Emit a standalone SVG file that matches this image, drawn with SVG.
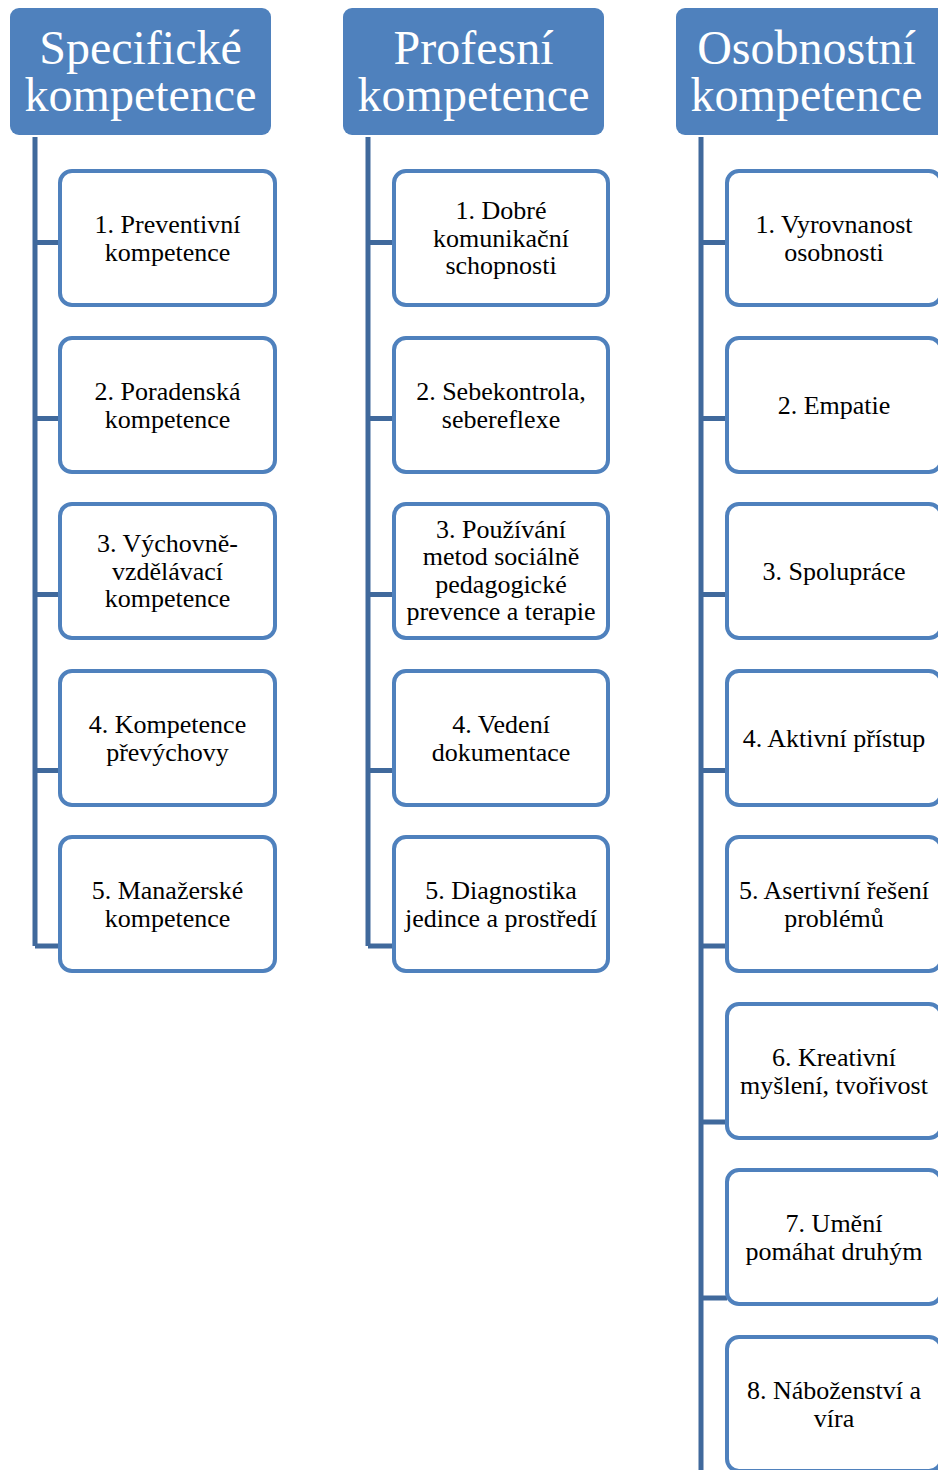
<svg xmlns="http://www.w3.org/2000/svg" width="938" height="1470" viewBox="0 0 938 1470">
<style>
.hdr{fill:#4F81BD}
.hdrt{font-family:"Liberation Serif","Times New Roman",serif;font-size:48px;fill:#FFFFFF;text-anchor:middle}
.box{fill:#FFFFFF;stroke:#4F81BD;stroke-width:4}
.bt{font-family:"Liberation Serif","Times New Roman",serif;font-size:26px;fill:#000000;text-anchor:middle}
.ln{stroke:#40699C;stroke-width:5;fill:none;stroke-linejoin:round}
</style>
<rect width="938" height="1470" fill="#FFFFFF"/>
<g id="connectors">
<path class="ln" d="M35,137 V946 M35,242.5 H60 M35,418.5 H60 M35,594.5 H60 M35,770.5 H60 M35,946 H60"/>
<path class="ln" d="M368,137 V946 M368,242.5 H394 M368,418.5 H394 M368,594.5 H394 M368,770.5 H394 M368,946 H394"/>
<path class="ln" d="M701,137 V1472 M701,242.5 H727 M701,418.5 H727 M701,594.5 H727 M701,770.5 H727 M701,946 H727 M701,1122 H727 M701,1298 H727"/>
</g>
<g id="h1"><rect class="hdr" x="10" y="8" width="261" height="127" rx="9"/><text class="hdrt" x="140.5"><tspan x="140.5" y="64">Specifické</tspan><tspan x="140.5" y="111">kompetence</tspan></text></g>
<g id="h2"><rect class="hdr" x="343" y="8" width="261" height="127" rx="9"/><text class="hdrt" x="473.5"><tspan x="473.5" y="64">Profesní</tspan><tspan x="473.5" y="111">kompetence</tspan></text></g>
<g id="h3"><rect class="hdr" x="676" y="8" width="272" height="127" rx="9"/><text class="hdrt" x="806.5"><tspan x="806.5" y="64">Osobnostní</tspan><tspan x="806.5" y="111">kompetence</tspan></text></g>

<g id="s1"><rect class="box" x="60" y="171" width="215" height="134" rx="12"/><text class="bt"><tspan x="167.5" y="233">1. Preventivní</tspan><tspan x="167.5" y="260.5">kompetence</tspan></text></g>
<g id="s2"><rect class="box" x="60" y="338" width="215" height="134" rx="12"/><text class="bt"><tspan x="167.5" y="400">2. Poradenská</tspan><tspan x="167.5" y="427.5">kompetence</tspan></text></g>
<g id="s3"><rect class="box" x="60" y="504" width="215" height="134" rx="12"/><text class="bt"><tspan x="167.5" y="552">3. Výchovně-</tspan><tspan x="167.5" y="579.5">vzdělávací</tspan><tspan x="167.5" y="607">kompetence</tspan></text></g>
<g id="s4"><rect class="box" x="60" y="671" width="215" height="134" rx="12"/><text class="bt"><tspan x="167.5" y="733">4. Kompetence</tspan><tspan x="167.5" y="760.5">převýchovy</tspan></text></g>
<g id="s5"><rect class="box" x="60" y="837" width="215" height="134" rx="12"/><text class="bt"><tspan x="167.5" y="899">5. Manažerské</tspan><tspan x="167.5" y="926.5">kompetence</tspan></text></g>

<g id="p1"><rect class="box" x="394" y="171" width="214" height="134" rx="12"/><text class="bt"><tspan x="501" y="219">1. Dobré</tspan><tspan x="501" y="246.5">komunikační</tspan><tspan x="501" y="274">schopnosti</tspan></text></g>
<g id="p2"><rect class="box" x="394" y="338" width="214" height="134" rx="12"/><text class="bt"><tspan x="501" y="400">2. Sebekontrola,</tspan><tspan x="501" y="427.5">sebereflexe</tspan></text></g>
<g id="p3"><rect class="box" x="394" y="504" width="214" height="134" rx="12"/><text class="bt"><tspan x="501" y="537.5">3. Používání</tspan><tspan x="501" y="565">metod sociálně</tspan><tspan x="501" y="592.5">pedagogické</tspan><tspan x="501" y="620">prevence a terapie</tspan></text></g>
<g id="p4"><rect class="box" x="394" y="671" width="214" height="134" rx="12"/><text class="bt"><tspan x="501" y="733">4. Vedení</tspan><tspan x="501" y="760.5">dokumentace</tspan></text></g>
<g id="p5"><rect class="box" x="394" y="837" width="214" height="134" rx="12"/><text class="bt"><tspan x="501" y="899">5. Diagnostika</tspan><tspan x="501" y="926.5">jedince a prostředí</tspan></text></g>

<g id="o1"><rect class="box" x="727" y="171" width="214" height="134" rx="12"/><text class="bt"><tspan x="834" y="233">1. Vyrovnanost</tspan><tspan x="834" y="260.5">osobnosti</tspan></text></g>
<g id="o2"><rect class="box" x="727" y="338" width="214" height="134" rx="12"/><text class="bt"><tspan x="834" y="413.5">2. Empatie</tspan></text></g>
<g id="o3"><rect class="box" x="727" y="504" width="214" height="134" rx="12"/><text class="bt"><tspan x="834" y="580">3. Spolupráce</tspan></text></g>
<g id="o4"><rect class="box" x="727" y="671" width="214" height="134" rx="12"/><text class="bt"><tspan x="834" y="746.5">4. Aktivní přístup</tspan></text></g>
<g id="o5"><rect class="box" x="727" y="837" width="214" height="134" rx="12"/><text class="bt"><tspan x="834" y="899">5. Asertivní řešení</tspan><tspan x="834" y="926.5">problémů</tspan></text></g>
<g id="o6"><rect class="box" x="727" y="1004" width="214" height="134" rx="12"/><text class="bt"><tspan x="834" y="1066">6. Kreativní</tspan><tspan x="834" y="1093.5">myšlení, tvořivost</tspan></text></g>
<g id="o7"><rect class="box" x="727" y="1170" width="214" height="134" rx="12"/><text class="bt"><tspan x="834" y="1232">7. Umění</tspan><tspan x="834" y="1259.5">pomáhat druhým</tspan></text></g>
<g id="o8"><rect class="box" x="727" y="1337" width="214" height="134" rx="12"/><text class="bt"><tspan x="834" y="1399">8. Náboženství a</tspan><tspan x="834" y="1426.5">víra</tspan></text></g>
</svg>
